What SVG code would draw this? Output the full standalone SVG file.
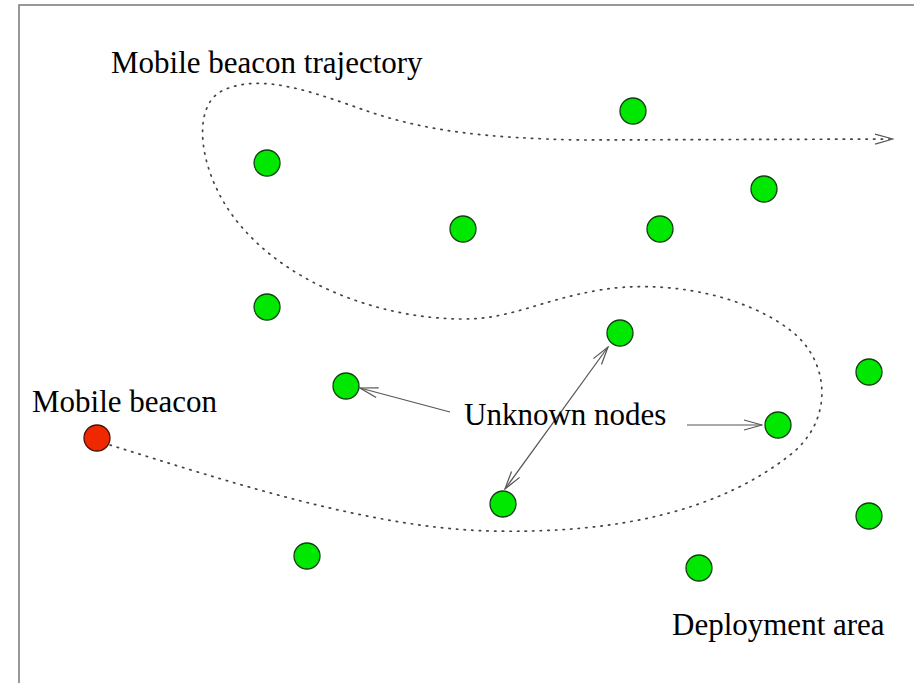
<svg xmlns="http://www.w3.org/2000/svg" width="914" height="683" viewBox="0 0 914 683">
<style>
.node{fill:#00e800;stroke:#124012;stroke-width:1.3}
.beacon{fill:#f02800;stroke:#4a1208;stroke-width:1.3}
.lbl{font-family:"Liberation Serif","Times New Roman",serif;font-size:31px;fill:#000}
.traj{fill:none;stroke:#444;stroke-width:1.7;stroke-dasharray:1.4 6.2;stroke-linecap:round}
.arr{fill:none;stroke:#555;stroke-width:1.2}
</style>
<defs>
<marker id="open" viewBox="0 0 20 12" refX="19" refY="6" markerWidth="20" markerHeight="12" markerUnits="userSpaceOnUse" orient="auto-start-reverse">
<path d="M1,1 L19,6 L1,11" fill="none" stroke="#555" stroke-width="1.2"/>
</marker>
</defs>
<rect x="0" y="0" width="914" height="683" fill="#fff"/>
<path d="M19,683 L19,5 L914,5" fill="none" stroke="#777" stroke-width="1.5"/>
<g id="connectors">
<path id="trajectory" class="traj" marker-end="url(#open)" d="M110,445 C230,482 370,528 490,531 C620,534 720,510 790,455 C835,420 830,360 790,330 C740,292 660,280 600,290 C540,300 510,320 460,319 C380,318 290,285 240,225 C200,178 190,110 220,92 C260,70 320,95 370,112 C430,132 490,138 580,140 L893,139"/>
<path id="arrow-left" class="arr" marker-end="url(#open)" d="M450,412 L360,388"/>
<path id="arrow-double" class="arr" marker-start="url(#open)" marker-end="url(#open)" d="M505,489 L608,347"/>
<path id="arrow-right" class="arr" marker-end="url(#open)" d="M687,425 L762,425"/>
</g>
<g id="beacon"><circle class="beacon" cx="97" cy="438" r="13"/></g>
<g id="n1"><circle class="node" cx="633" cy="111" r="13"/></g>
<g id="n2"><circle class="node" cx="267" cy="163" r="13"/></g>
<g id="n3"><circle class="node" cx="764" cy="189" r="13"/></g>
<g id="n4"><circle class="node" cx="463" cy="229" r="13"/></g>
<g id="n5"><circle class="node" cx="660" cy="229" r="13"/></g>
<g id="n6"><circle class="node" cx="267" cy="307" r="13"/></g>
<g id="n7"><circle class="node" cx="620" cy="333" r="13"/></g>
<g id="n8"><circle class="node" cx="346" cy="386" r="13"/></g>
<g id="n9"><circle class="node" cx="869" cy="372" r="13"/></g>
<g id="n10"><circle class="node" cx="778" cy="425" r="13"/></g>
<g id="n11"><circle class="node" cx="503" cy="504" r="13"/></g>
<g id="n12"><circle class="node" cx="869" cy="516" r="13"/></g>
<g id="n13"><circle class="node" cx="307" cy="556" r="13"/></g>
<g id="n14"><circle class="node" cx="699" cy="568" r="13"/></g>
<g id="labels">
<text class="lbl" x="111" y="73">Mobile beacon trajectory</text>
<text class="lbl" x="32" y="412">Mobile beacon</text>
<text class="lbl" x="464" y="425">Unknown nodes</text>
<text class="lbl" x="672" y="635">Deployment area</text>
</g>
</svg>
